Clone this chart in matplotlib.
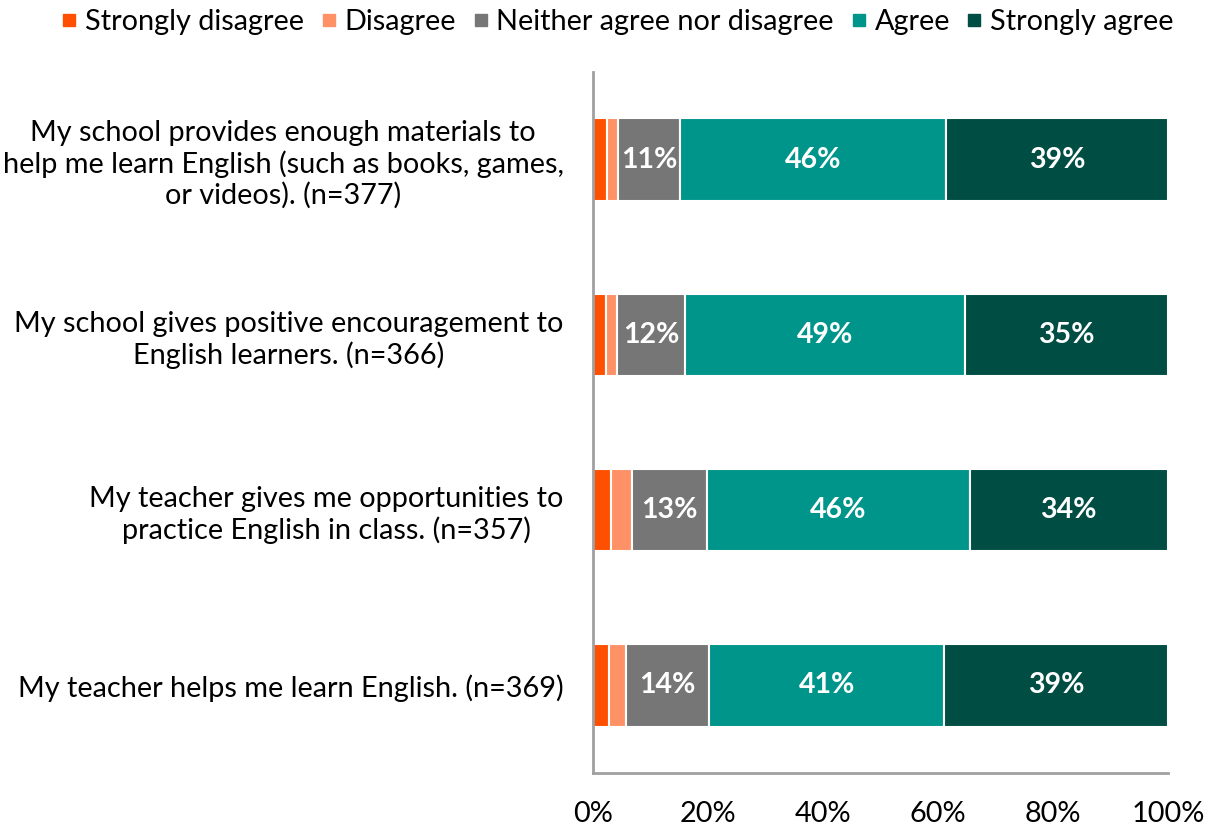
import numpy as np
import matplotlib.pyplot as plt
from matplotlib.lines import Line2D

plt.rcParams['font.family'] = ['Lato', 'DejaVu Sans']

questions = [
    'My school provides enough materials to\nhelp me learn English (such as books, games,\nor videos). (n=377)',
    'My school gives positive encouragement to\nEnglish learners. (n=366)',
    'My teacher gives me opportunities to\npractice English in class. (n=357)',
    'My teacher helps me learn English. (n=369)',
]
categories = ['Strongly disagree', 'Disagree', 'Neither agree nor disagree', 'Agree', 'Strongly agree']
colors = ['#FF4F00', '#FF9166', '#767676', '#00958A', '#004D43']

# percent per category, one list per question (top to bottom)
strongly_disagree = [2.5, 2.3, 3.1, 2.8]
disagree = [1.9, 1.9, 3.7, 3.0]
neither = [10.8, 11.8, 13.0, 14.4]
agree = [46.2, 48.7, 45.7, 40.9]
strongly_agree = [38.6, 35.3, 34.5, 38.9]
labels_shown = [
    [None, None, '11%', '46%', '39%'],
    [None, None, '12%', '49%', '35%'],
    [None, None, '13%', '46%', '34%'],
    [None, None, '14%', '41%', '39%'],
]

series = [strongly_disagree, disagree, neither, agree, strongly_agree]

fig = plt.figure(figsize=(12.15, 8.3), dpi=100)
ax = fig.add_axes([0.488, 0.0687, 0.4732, 0.8446])

y = np.arange(len(questions))
left = np.zeros(len(questions))
for i, vals in enumerate(series):
    vals = np.array(vals)
    ax.barh(y, vals, left=left, height=0.47, color=colors[i],
            edgecolor='white', linewidth=1.5)
    for j in range(len(questions)):
        lab = labels_shown[j][i]
        if lab:
            ax.text(left[j] + vals[j] / 2, y[j], lab, ha='center', va='center',
                    color='white', fontsize=20.5, fontweight='bold')
    left += vals

ax.set_xlim(0, 100)
ax.set_ylim(3.5, -0.5)
ax.set_xticks(np.arange(0, 101, 20))
ax.set_xticklabels([f'{v}%' for v in range(0, 101, 20)], fontsize=20.8)
ax.set_yticks(y)
ax.set_yticklabels(questions, fontsize=20.8)
for t in ax.get_yticklabels():
    t.set_multialignment('center')
ax.tick_params(axis='x', length=0, pad=20)
ax.tick_params(axis='y', length=0, pad=21)

for s in ['top', 'right']:
    ax.spines[s].set_visible(False)
for s in ['left', 'bottom']:
    ax.spines[s].set_color('#A0A0A0')
    ax.spines[s].set_linewidth(2)

handles = [Line2D([0], [0], marker='s', color='none', markerfacecolor=c,
                  markeredgecolor=c, markersize=9) for c in colors]
fig.legend(handles, categories, loc='upper center', bbox_to_anchor=(0.508, 1.02),
           ncol=5, frameon=False, fontsize=20.8, handlelength=0.6,
           handletextpad=0.25, columnspacing=0.55)

plt.savefig('out.png', dpi=100)
plt.close()
